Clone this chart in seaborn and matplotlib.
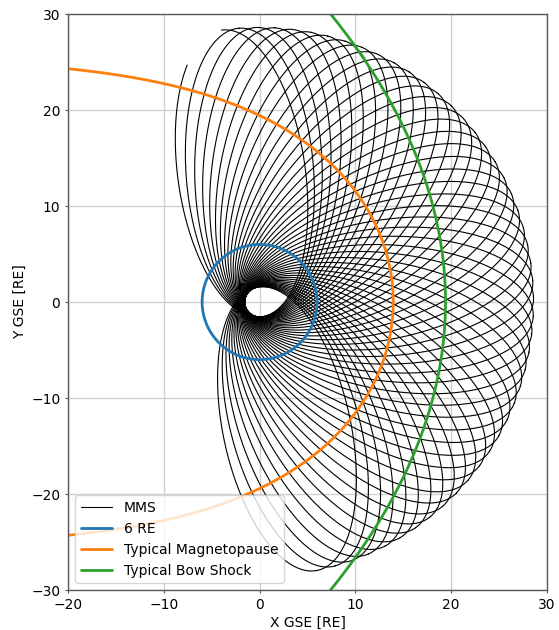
import numpy as np
import pandas as pd
import matplotlib
matplotlib.use("Agg")
import matplotlib.pyplot as plt
from matplotlib.lines import Line2D
import seaborn as sns

# --- MMS orbit elements (Earth radii, degrees in the GSE X-Y plane) ---
APOGEE_RE = 28.6
PERIGEE_RE = 1.55
# apogee direction of each successive orbit (precesses clockwise in GSE)
apogee_angle_deg = [
    98.0, 94.3, 90.5, 86.8, 83.0, 79.3, 75.6, 71.8, 68.1, 64.3, 60.6,
    56.9, 53.1, 49.4, 45.6, 41.9, 38.2, 34.4, 30.7, 26.9, 23.2, 19.5,
    15.7, 12.0, 8.2, 4.5, 0.8, -3.0, -6.7, -10.5, -14.2, -17.9, -21.7,
    -25.4, -29.2, -32.9, -36.6, -40.4, -44.1, -47.9, -51.6, -55.3, -59.1,
    -62.8, -66.6, -70.3, -74.0, -77.8,
]
# the record begins shortly after the first apogee
FIRST_ORBIT_START_DEG = 189.0

# --- boundary models ---
MP_STANDOFF_RE = 13.95      # magnetopause subsolar distance
MP_FLARING = 0.478          # magnetopause flaring exponent
BS_SEMILATUS_RE = 38.0      # bow shock conic semi-latus rectum
BS_ECCENTRICITY = 0.958     # bow shock conic eccentricity
REF_RADIUS_RE = 6.0

x_ticks = [-20, -10, 0, 10, 20, 30]
y_ticks = [-30, -20, -10, 0, 10, 20, 30]

# --- build orbit tracks ---
a = 0.5 * (APOGEE_RE + PERIGEE_RE)
ecc = (APOGEE_RE - PERIGEE_RE) / (APOGEE_RE + PERIGEE_RE)
b = a * np.sqrt(1 - ecc ** 2)
E = np.linspace(np.pi, 3 * np.pi, 1500)
xp = a * (np.cos(E) - ecc)
yp = b * np.sin(E)
nu = np.degrees(np.unwrap(np.arctan2(yp, xp)))
nu = nu - nu[0] + 180.0

frames = []
for k, ang in enumerate(apogee_angle_deg):
    phi = np.radians(ang + 180.0)          # perigee direction
    X = xp * np.cos(phi) - yp * np.sin(phi)
    Y = xp * np.sin(phi) + yp * np.cos(phi)
    keep = np.ones_like(X, dtype=bool)
    if k == 0:
        keep = nu >= FIRST_ORBIT_START_DEG
    frames.append(pd.DataFrame({"x": X[keep], "y": Y[keep], "orbit": k}))
orbits = pd.concat(frames, ignore_index=True)

th = np.radians(np.linspace(0, 360, 721))
circle = pd.DataFrame({"x": REF_RADIUS_RE * np.cos(th),
                       "y": REF_RADIUS_RE * np.sin(th)})

th_mp = np.radians(np.linspace(-150, 150, 1201))
r_mp = MP_STANDOFF_RE * (2.0 / (1.0 + np.cos(th_mp))) ** MP_FLARING
magnetopause = pd.DataFrame({"x": r_mp * np.cos(th_mp), "y": r_mp * np.sin(th_mp)})

th_bs = np.radians(np.linspace(-110, 110, 1201))
r_bs = BS_SEMILATUS_RE / (1.0 + BS_ECCENTRICITY * np.cos(th_bs))
bow_shock = pd.DataFrame({"x": r_bs * np.cos(th_bs), "y": r_bs * np.sin(th_bs)})

# --- style ---
sns.set_style("whitegrid", rc={
    "axes.edgecolor": "0.35",
    "grid.color": "0.82",
    "xtick.bottom": True,
    "ytick.left": True,
    "xtick.color": "0.35",
    "ytick.color": "0.35",
    "axes.labelcolor": "black",
    "text.color": "black",
})
plt.rcParams.update({
    "font.family": ["DejaVu Sans"],
    "font.size": 10,
    "axes.linewidth": 1.0,
    "grid.linewidth": 1.0,
    "xtick.major.size": 2.5,
    "ytick.major.size": 2.5,
    "xtick.major.pad": 3.0,
    "ytick.major.pad": 3.0,
    "xtick.labelcolor": "black",
    "ytick.labelcolor": "black",
    "axes.labelpad": 3.0,
})

fig = plt.figure(figsize=(5.59, 6.30), dpi=100)
ax = fig.add_axes([68 / 559, 40 / 630, 479 / 559, 576 / 630])

c_mms, c_ref, c_mp, c_bs = "black", "#1f77b4", "#ff7f0e", "#2ca02c"

sns.lineplot(data=orbits, x="x", y="y", units="orbit", estimator=None,
             sort=False, color=c_mms, linewidth=0.8, legend=False, ax=ax)
sns.lineplot(data=circle, x="x", y="y", sort=False, estimator=None,
             color=c_ref, linewidth=2.0, ax=ax)
sns.lineplot(data=magnetopause, x="x", y="y", sort=False, estimator=None,
             color=c_mp, linewidth=2.0, ax=ax)
sns.lineplot(data=bow_shock, x="x", y="y", sort=False, estimator=None,
             color=c_bs, linewidth=2.0, ax=ax)

ax.set_xlim(-20, 30)
ax.set_ylim(-30, 30)
ax.set_xticks(x_ticks)
ax.set_yticks(y_ticks)
ax.set_xlabel("X GSE [RE]")
ax.set_ylabel("Y GSE [RE]")

handles = [
    Line2D([], [], color=c_mms, linewidth=0.8, label="MMS"),
    Line2D([], [], color=c_ref, linewidth=2.0, label="6 RE"),
    Line2D([], [], color=c_mp, linewidth=2.0, label="Typical Magnetopause"),
    Line2D([], [], color=c_bs, linewidth=2.0, label="Typical Bow Shock"),
]
ax.legend(handles=handles, loc="lower left", framealpha=0.8, handlelength=2.3)

fig.savefig("out.png", dpi=100)
